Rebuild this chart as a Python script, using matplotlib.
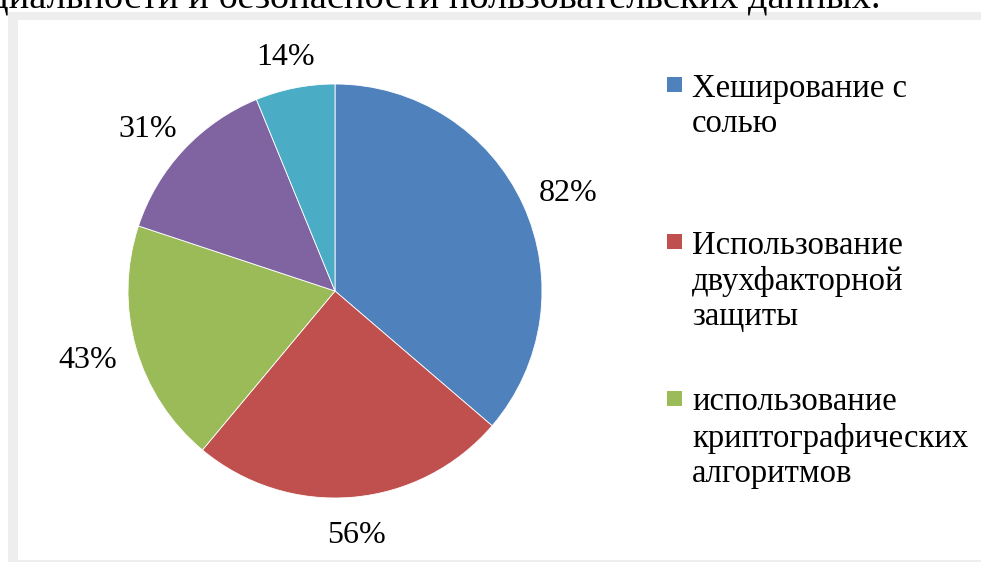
import matplotlib.pyplot as plt
from matplotlib.patches import Rectangle
import numpy as np

plt.rcParams['font.family'] = ['Liberation Serif', 'DejaVu Serif']

# survey data: share of respondents per protection method
categories = ['Хеширование с\nсолью',
              'Использование\nдвухфакторной\nзащиты',
              'использование\nкриптографических\nалгоритмов',
              'Другие методы',
              'Не используют']
values = [82, 56, 43, 31, 14]
value_labels = ['82%', '56%', '43%', '31%', '14%']
colors = ['#4F81BD', '#C0504D', '#9BBB59', '#8064A2', '#4BACC6']
caption = 'циальности и безопасности пользовательских данных.'

W, H = 981, 562
fig = plt.figure(figsize=(W / 100, H / 100), dpi=100)

# grey frame around the chart area
fig.patches.append(Rectangle((8 / W, 0), 1, (H - 12) / H, transform=fig.transFigure,
                             facecolor='#EEEEEE', edgecolor='none', zorder=-2))
fig.patches.append(Rectangle((18 / W, 2 / H), 1, (560 - 20) / H, transform=fig.transFigure,
                             facecolor='white', edgecolor='none', zorder=-1))

# tail of the paragraph above the chart, cut by the top edge
fig.text(880 / W, 1 - 8 / H, caption, ha='right', va='baseline', fontsize=27.6)

# pie: centre (335, 291) px, radius 207 px
cx, cy, r = 335, 291, 207
ax = fig.add_axes([(cx - r) / W, (H - cy - r) / H, 2 * r / W, 2 * r / H])
wedges, _ = ax.pie(values, colors=colors, startangle=90, counterclock=False,
                   wedgeprops=dict(linewidth=0.6, edgecolor='white'))
ax.set_xlim(-1, 1)
ax.set_ylim(-1, 1)
ax.set_aspect('equal')
ax.axis('off')

# value labels just outside the rim, box pushed away from the slice
hw, hh = 29 / r, 14 / r
for w, lab in zip(wedges, value_labels):
    ang = np.deg2rad((w.theta1 + w.theta2) / 2)
    c, s = np.cos(ang), np.sin(ang)
    x = 1.1 * c + hw * c
    y = 1.1 * s + hh * s
    ax.text(x, y, lab, ha='center', va='center_baseline',
            fontsize=23, clip_on=False)

# legend: only the first three entries fit in the frame
for i, (name, col) in enumerate(zip(categories[:3], colors[:3])):
    top = 77 + i * 157
    fig.patches.append(Rectangle((667 / W, 1 - (top + 15) / H), 15 / W, 15 / H,
                                 transform=fig.transFigure, facecolor=col,
                                 edgecolor='none'))
    fig.text(692 / W, 1 - (top - 4) / H, name, ha='left', va='top',
             fontsize=23.5, linespacing=1.22)

fig.savefig('out.png', dpi=100)
